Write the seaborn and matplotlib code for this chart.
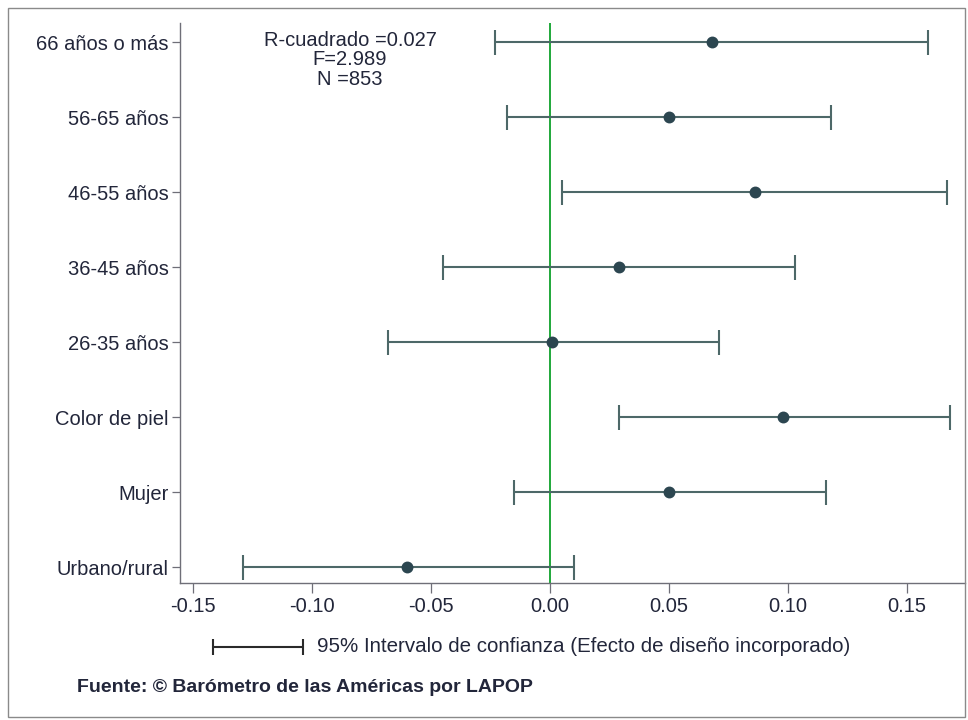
import numpy as np
import pandas as pd
import seaborn as sns
import matplotlib.pyplot as plt
from matplotlib.lines import Line2D
from matplotlib.patches import Rectangle


# coeficientes estandarizados y su intervalo de confianza al 95%
variables = ['66 años o más', '56-65 años', '46-55 años', '36-45 años',
             '26-35 años', 'Color de piel', 'Mujer', 'Urbano/rural']
coef = [0.068, 0.050, 0.086, 0.029, 0.001, 0.098, 0.050, -0.060]
ci_low = [-0.023, -0.018, 0.005, -0.045, -0.068, 0.029, -0.015, -0.129]
ci_high = [0.159, 0.118, 0.167, 0.103, 0.071, 0.168, 0.116, 0.010]

stats_text = 'R-cuadrado =0.027\nF=2.989\nN =853'
xticks = [-0.15, -0.10, -0.05, 0.00, 0.05, 0.10, 0.15]


def plot_coef(df):
    sns.set_style('white')
    plt.rcParams['font.family'] = ['Liberation Sans', 'DejaVu Sans']

    fig = plt.figure(figsize=(9.68, 7.2), dpi=100)
    ax = fig.add_axes([0.186, 0.1903, 0.811, 0.7777])

    line_col = '#4d6868'
    dot_col = '#2c4650'
    text_col = '#22263a'

    ax.axvline(0, color='#1fa83a', lw=1.4, zorder=1)

    sns.pointplot(data=df, x='coef', y='variable', linestyle='none',
                  errorbar=None, color=dot_col, markers='o',
                  markersize=6.5, ax=ax, zorder=4)

    ypos = np.arange(len(df))
    ax.errorbar(df['coef'], ypos,
                xerr=[df['coef'] - df['low'], df['high'] - df['coef']],
                fmt='none', ecolor=line_col, elinewidth=1.5,
                capsize=9, capthick=1.5, zorder=3)

    ax.set_xlim(-0.1555, 0.1744)
    ax.set_ylim(7.21, -0.253)
    ax.set_xticks(xticks)
    ax.set_xticklabels([f'{t:.2f}' for t in xticks])
    ax.set_xlabel('')
    ax.set_ylabel('')

    for s in ['top', 'right']:
        ax.spines[s].set_visible(False)
    for s in ['left', 'bottom']:
        ax.spines[s].set_color('#6f6f78')
        ax.spines[s].set_linewidth(1.0)
    ax.tick_params(axis='both', bottom=True, left=True, width=0.9,
                   color='#6f6f78', labelsize=14.5, labelcolor=text_col)
    ax.tick_params(axis='x', length=7, pad=3)
    ax.tick_params(axis='y', length=6, pad=2)

    fig.text(350 / 968, 1 - 31 / 720, stats_text, ha='center', va='top',
             ma='center', fontsize=14.5, color=text_col, linespacing=1.02)

    # leyenda del intervalo
    ly = 1 - 647 / 720
    fig.add_artist(Line2D([213 / 968, 303 / 968], [ly, ly],
                          transform=fig.transFigure, color='#2a2a2a',
                          lw=1.5, marker='|', markersize=11,
                          markeredgewidth=1.5))
    fig.text(317 / 968, ly, '95% Intervalo de confianza (Efecto de diseño incorporado)',
             ha='left', va='center', fontsize=14.8, color=text_col)
    fig.text(77 / 968, 1 - 688 / 720, 'Fuente: © Barómetro de las Américas por LAPOP',
             ha='left', va='center', fontsize=14, fontweight='bold',
             color=text_col)

    fig.add_artist(Rectangle((8 / 968, 1 - 717 / 720), 957 / 968, 709 / 720,
                             transform=fig.transFigure, fill=False,
                             edgecolor='#8a8a8a', lw=1.0))

    fig.savefig('out.png', dpi=100, facecolor='white')


if __name__ == '__main__':
    data = pd.DataFrame({'variable': variables, 'coef': coef,
                         'low': ci_low, 'high': ci_high})
    plot_coef(data)
